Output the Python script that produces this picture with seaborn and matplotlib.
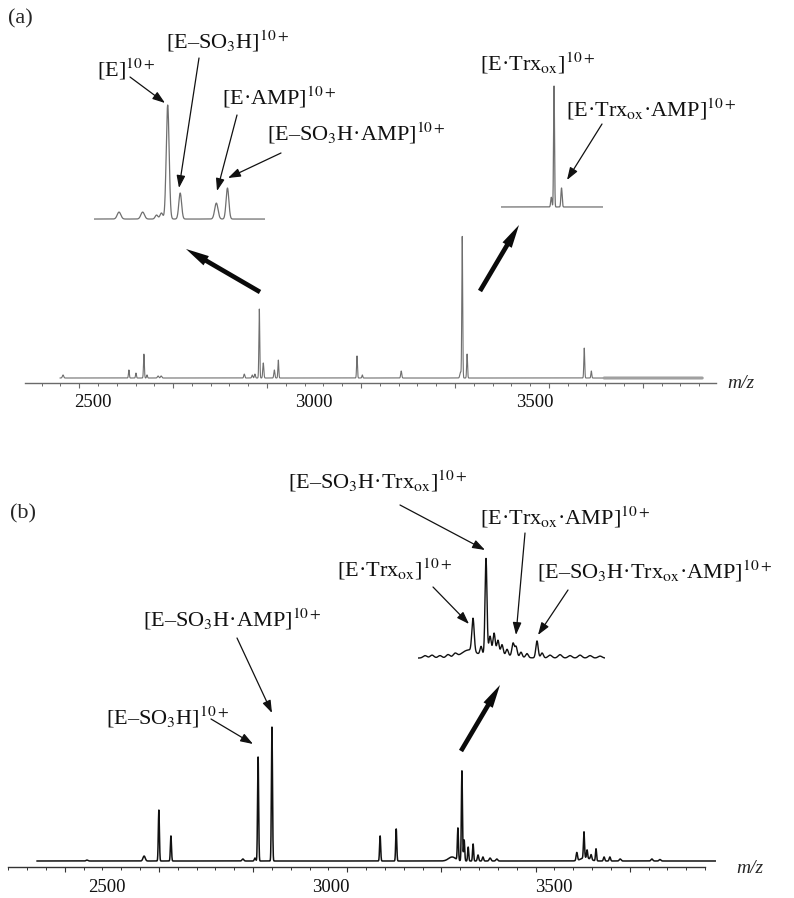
import numpy as np
import pandas as pd
import matplotlib
matplotlib.use("Agg")
import matplotlib.pyplot as plt
import matplotlib.transforms as mtransforms
from matplotlib.patches import FancyArrowPatch
from matplotlib.ticker import MultipleLocator
import seaborn as sns

# ---------------- data ----------------
# Panel (a) full spectrum: peak centres (m/z), relative intensity (%), peak sigma (m/z)
a_mz = [2432, 2581, 2597, 2615, 2622, 2647, 2654, 2842, 2860, 2866, 2876, 2885,
        2910, 2919, 3097, 3109, 3197, 3331, 3335, 3346, 3611, 3627]
a_int = [2.1, 5.5, 3.4, 16.4, 2.1, 1.4, 1.4, 2.7, 2.1, 2.7, 47.3, 10.3,
         5.5, 12.3, 15.1, 2.1, 4.8, 4.0, 97.0, 16.4, 20.5, 4.8]
a_sig = [1.5, 1.0, 1.0, 1.0, 1.0, 1.5, 1.5, 1.2, 1.2, 1.2, 1.0, 1.2,
         1.2, 1.0, 1.0, 1.0, 1.2, 1.5, 1.0, 1.0, 1.0, 1.0]

# Panel (a) inset left (m/z 2823-2946)
ial_mz = [2841, 2858, 2868, 2871.5, 2876, 2885, 2911, 2919]
ial_int = [6.1, 6.1, 3.5, 5.3, 100.0, 22.8, 14.0, 27.2]
ial_sig = [1.3, 1.3, 1.0, 1.0, 1.05, 1.0, 1.2, 1.0]

# Panel (a) inset right (m/z 3257-3407)
iar_mz = [3331, 3335, 3346]
iar_int = [8.0, 100.0, 15.7]
iar_sig = [0.9, 0.7, 0.9]

# Panel (b) full spectrum
b_mz = [2455, 2583, 2616, 2643, 2804, 2831, 2838, 2869, 3111, 3147, 3272, 3285,
        3294, 3299, 3308, 3319, 3330, 3341, 3357, 3372, 3570, 3551, 3567, 3574,
        3583, 3594, 3612, 3625, 3648, 3719, 3737]
b_int = [0.7, 3.7, 38.0, 18.7, 1.5, 2.2, 77.6, 100.0, 18.7, 23.9, 3.0, 23.9,
         67.2, 15.7, 10.4, 12.7, 4.5, 3.0, 2.2, 1.5, 2.5, 6.0, 19.4, 6.0,
         3.7, 9.0, 3.0, 3.0, 1.5, 1.5, 1.1]
b_sig = [2.0, 2.5, 1.2, 1.2, 2.0, 1.5, 1.2, 1.2, 1.2, 1.2, 8.0, 1.2,
         1.2, 1.2, 1.2, 1.2, 1.5, 1.5, 2.0, 2.0, 10.0, 1.5, 1.2, 1.2,
         1.5, 1.2, 1.5, 1.5, 2.0, 2.0, 2.0]

# Panel (b) inset (m/z 3242-3386)
ib_mz = [3247.1, 3252.5, 3258.6, 3264.8, 3270.2, 3280.2, 3284.0, 3290.2, 3294.0,
         3297.1, 3300.2, 3303.2, 3306.3, 3310.2, 3314.8, 3317.1, 3320.9, 3325.5,
         3333.2, 3337.1, 3343.2, 3350.9, 3358.6, 3366.3, 3374.0, 3381.7, 3300.0]
ib_int = [2.5, 3.0, 2.5, 3.5, 4.0, 7.3, 34.4, 8.3, 100.0,
          18.8, 21.9, 14.6, 10.4, 6.3, 13.5, 10.4, 5.2, 4.2,
          17.7, 5.2, 3.0, 3.5, 2.5, 3.0, 2.5, 2.0, 4.0]
ib_sig = [1.5, 1.5, 1.5, 1.5, 1.5, 5.0, 0.9, 0.8, 0.75,
          0.9, 0.9, 0.9, 0.9, 0.9, 0.9, 0.9, 0.9, 1.0,
          0.9, 1.0, 1.5, 1.5, 1.5, 1.5, 1.5, 1.5, 12.0]

tick_labels = [2500, 3000, 3500]

labels_a = [
    ("[E]$^{10+}$", 97, 72),
    ("[E–SO$_3$H]$^{10+}$", 166, 43),
    ("[E·AMP]$^{10+}$", 222, 100),
    ("[E–SO$_3$H·AMP]$^{10+}$", 267, 135),
    ("[E·Trx$_{\\mathrm{ox}}$]$^{10+}$", 480, 65),
    ("[E·Trx$_{\\mathrm{ox}}$·AMP]$^{10+}$", 566, 112),
]
labels_b = [
    ("[E–SO$_3$H·Trx$_{\\mathrm{ox}}$]$^{10+}$", 288, 483),
    ("[E·Trx$_{\\mathrm{ox}}$]$^{10+}$", 337, 572),
    ("[E·Trx$_{\\mathrm{ox}}$·AMP]$^{10+}$", 480, 520),
    ("[E–SO$_3$H·Trx$_{\\mathrm{ox}}$·AMP]$^{10+}$", 537, 573),
    ("[E–SO$_3$H·AMP]$^{10+}$", 143, 622),
    ("[E–SO$_3$H]$^{10+}$", 106, 720),
]

# ---------------- style ----------------
sns.set_theme(style="white")
plt.rcParams["font.family"] = ["Liberation Serif", "DejaVu Serif"]
plt.rcParams["mathtext.fontset"] = "stix"

W, H = 794, 898
fig = plt.figure(figsize=(W / 100, H / 100), dpi=100)
fig.patch.set_facecolor("white")


def rect(left, top, right, bottom):
    return [left / W, 1 - bottom / H, (right - left) / W, (bottom - top) / H]


def fpos(x, y):
    return (x / W, 1 - y / H)


def profile(grid, mz, inten, sig):
    g = np.asarray(grid)[:, None]
    m = np.asarray(mz)[None, :]
    h = np.asarray(inten)[None, :]
    s = np.asarray(sig)[None, :]
    return (h * np.exp(-0.5 * ((g - m) / s) ** 2)).sum(axis=1)


def trace(ax, lo, hi, mz, inten, sig, color, lw, step=0.15):
    grid = np.arange(lo, hi, step)
    df = pd.DataFrame({"mz": grid, "intensity": profile(grid, mz, inten, sig)})
    sns.lineplot(data=df, x="mz", y="intensity", ax=ax, color=color,
                 linewidth=lw, estimator=None, errorbar=None)


def style_main(ax, color, major, offset, lab_y):
    for s in ["left", "top", "right"]:
        ax.spines[s].set_visible(False)
    ax.spines["bottom"].set_color(color)
    ax.spines["bottom"].set_linewidth(1.0)
    ax.set_yticks([])
    ax.set_xlabel("")
    ax.set_ylabel("")
    ax.xaxis.set_major_locator(MultipleLocator(major, offset=offset))
    ax.xaxis.set_minor_locator(MultipleLocator(major / 5, offset=offset))
    ax.tick_params(axis="x", which="major", direction="out", length=3.4,
                   width=0.8, color=color, labelbottom=False, bottom=True)
    ax.tick_params(axis="x", which="minor", direction="out", length=1.9,
                   width=0.7, color=color, bottom=True)
    tr = mtransforms.blended_transform_factory(ax.transData, fig.transFigure)
    for t in tick_labels:
        ax.text(t, 1 - lab_y / H, str(t), transform=tr, ha="center",
                va="center", fontsize=13.5, color="#111111")
    ax.patch.set_alpha(0)


def style_inset(ax):
    ax.set_axis_off()
    ax.patch.set_alpha(0)


# ---------------- panel (a) ----------------
ax_a = fig.add_axes(rect(25, 225, 716, 383))
trace(ax_a, 2425, 3656, a_mz, a_int, a_sig, "#6f6f6f", 0.8)
trace(ax_a, 3656, 3878, a_mz, a_int, a_sig, "#a0a0a0", 2.2)
ax_a.set_xlim(2346, 3909)
ax_a.set_ylim(-3.42, 104.8)
style_main(ax_a, "#6a6a6a", 212.5, 131.0, 402)

ax_al = fig.add_axes(rect(94, 100, 265, 222))
trace(ax_al, 2823, 2946, ial_mz, ial_int, ial_sig, "#6f6f6f", 0.9, step=0.05)
ax_al.set_xlim(2823, 2946)
ax_al.set_ylim(-2.6, 104.4)
style_inset(ax_al)

ax_ar = fig.add_axes(rect(501, 80, 603, 210))
trace(ax_ar, 3257, 3407, iar_mz, iar_int, iar_sig, "#6f6f6f", 0.9, step=0.05)
ax_ar.set_xlim(3257, 3407)
ax_ar.set_ylim(-2.5, 105)
style_inset(ax_ar)

# ---------------- panel (b) ----------------
ax_b = fig.add_axes(rect(8, 720, 716, 867))
trace(ax_b, 2343, 3862, b_mz, b_int, b_sig, "#111111", 1.1)
ax_b.set_xlim(2278.5, 3862.4)
ax_b.set_ylim(-4.48, 105.2)
style_main(ax_b, "#333333", 210.7, 87.6, 888)
ax_b.spines["bottom"].set_bounds(2278.5, 3838)

ax_bi = fig.add_axes(rect(418, 555, 605, 661))
trace(ax_bi, 3241.7, 3385.5, ib_mz, ib_int, ib_sig, "#111111", 1.0, step=0.05)
ax_bi.set_xlim(3241.7, 3385.5)
ax_bi.set_ylim(-3.1, 107.3)
style_inset(ax_bi)

# ---------------- text ----------------
fig.text(*fpos(8, 23), "(a)", fontsize=16, ha="left", va="baseline")
fig.text(*fpos(10, 518), "(b)", fontsize=16, ha="left", va="baseline")
fig.text(*fpos(727, 388), "m/z", fontsize=14, style="italic", ha="left",
         va="baseline")
fig.text(*fpos(736, 873), "m/z", fontsize=14, style="italic", ha="left",
         va="baseline")

for s, x, y in labels_a + labels_b:
    fig.text(*fpos(x, y + 5), s, fontsize=16, ha="left", va="baseline",
             color="#111111")

# thin annotation arrows (tail -> tip), pixel positions
thin_arrows = [
    ((130, 77), (165, 103)), ((199, 58), (179, 188)), ((237, 115), (217, 191)),
    ((281, 153), (228, 178)), ((602, 124), (567, 180)),
    ((400, 505), (485, 550)), ((433, 587), (469, 624)), ((525, 533), (516, 635)),
    ((568, 590), (538, 635)), ((237, 638), (272, 713)), ((211, 719), (253, 744)),
]
for (x0, y0), (x1, y1) in thin_arrows:
    fig.add_artist(FancyArrowPatch(fpos(x0, y0), fpos(x1, y1),
                                   transform=fig.transFigure,
                                   arrowstyle="-|>,head_length=0.75,head_width=0.26",
                                   mutation_scale=10, lw=0.9, color="#111111",
                                   shrinkA=0, shrinkB=0))

# thick zoom arrows
big_arrows = [((260, 292), (186, 249)), ((480, 291), (519, 225)),
              ((461, 751), (500, 685))]
for (x0, y0), (x1, y1) in big_arrows:
    fig.add_artist(FancyArrowPatch(fpos(x0, y0), fpos(x1, y1),
                                   transform=fig.transFigure,
                                   arrowstyle="simple,head_length=1.2,head_width=0.55,tail_width=0.24",
                                   mutation_scale=14, lw=0, color="#0a0a0a",
                                   shrinkA=0, shrinkB=0))

fig.savefig("out.png", dpi=100, facecolor="white")
